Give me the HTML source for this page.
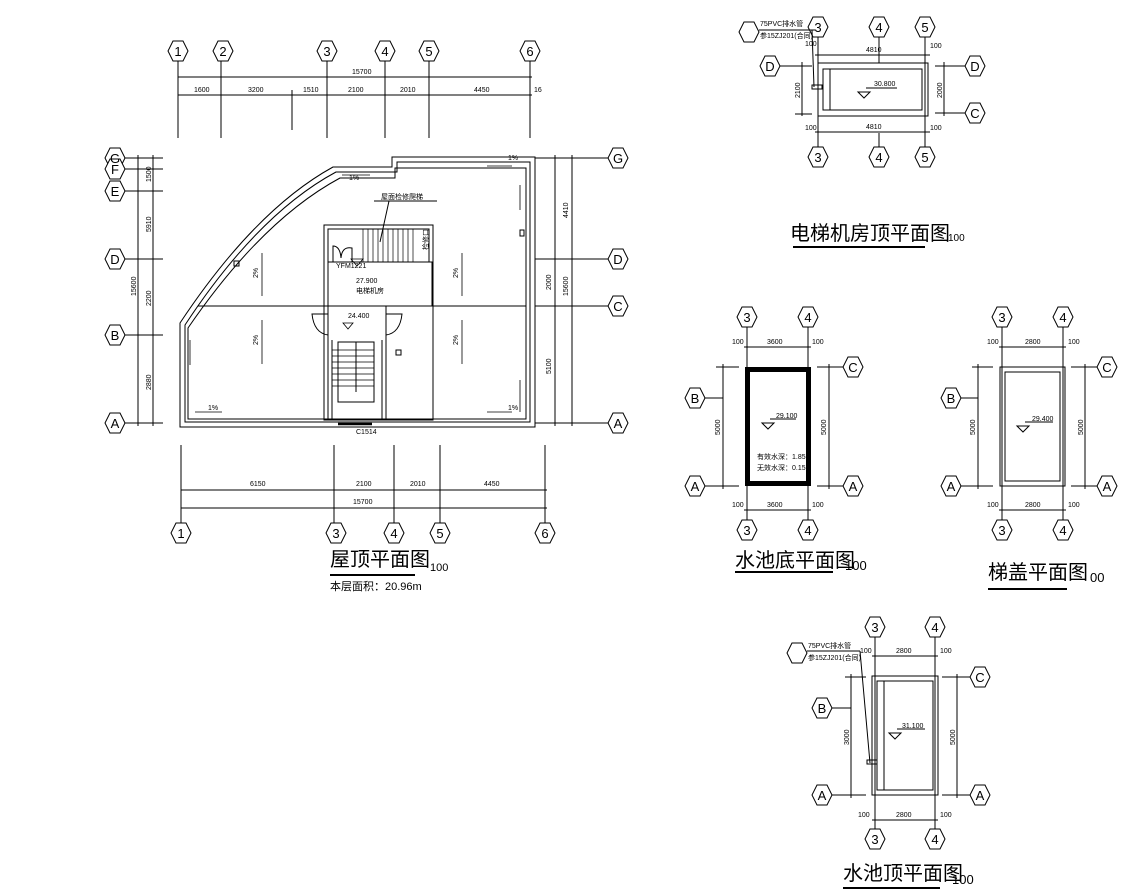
<!DOCTYPE html>
<html><head><meta charset="utf-8"><style>
html,body{margin:0;padding:0;background:#fff;}
svg{display:block;}
text{font-family:"Liberation Sans","Noto Sans CJK SC",sans-serif;fill:#000;}
.s{font-size:7px;}
.ax{font-size:13px;text-anchor:middle;}
.t{font-size:20px;}
</style></head><body>
<svg width="1133" height="890" viewBox="0 0 1133 890" xmlns="http://www.w3.org/2000/svg" stroke="#000" fill="none" stroke-width="1">
<defs>
<polygon id="hx" points="-5,-10 5,-10 10,0 5,10 -5,10 -10,0" fill="#fff"/>
</defs>

<!-- ============ MAIN ROOF PLAN ============ -->
<g>
<use href="#hx" x="178" y="51"/><use href="#hx" x="223" y="51"/><use href="#hx" x="327" y="51"/><use href="#hx" x="385" y="51"/><use href="#hx" x="429" y="51"/><use href="#hx" x="530" y="51"/>
</g>
<g stroke-width="1">
<line x1="178" y1="61" x2="178" y2="138"/><line x1="221" y1="61" x2="221" y2="138"/><line x1="327" y1="61" x2="327" y2="138"/><line x1="385" y1="61" x2="385" y2="138"/><line x1="429" y1="61" x2="429" y2="138"/><line x1="530" y1="61" x2="530" y2="138"/>
<line x1="292" y1="90" x2="292" y2="130"/>
<line x1="178" y1="77" x2="532" y2="77"/><line x1="178" y1="95" x2="532" y2="95"/>
</g>
<g stroke="none">
<text class="ax" x="178" y="56">1</text><text class="ax" x="223" y="56">2</text><text class="ax" x="327" y="56">3</text><text class="ax" x="385" y="56">4</text><text class="ax" x="429" y="56">5</text><text class="ax" x="530" y="56">6</text>
<text class="s" x="352" y="74">15700</text>
<text class="s" x="194" y="92">1600</text><text class="s" x="248" y="92">3200</text><text class="s" x="303" y="92">1510</text><text class="s" x="348" y="92">2100</text><text class="s" x="400" y="92">2010</text><text class="s" x="474" y="92">4450</text><text class="s" x="534" y="92">16</text>
</g>

<!-- bottom axes -->
<g>
<line x1="181" y1="445" x2="181" y2="523"/><line x1="334" y1="445" x2="334" y2="523"/><line x1="394" y1="445" x2="394" y2="523"/><line x1="440" y1="445" x2="440" y2="523"/><line x1="545" y1="445" x2="545" y2="523"/>
<line x1="181" y1="490" x2="547" y2="490"/><line x1="181" y1="508" x2="547" y2="508"/>
<use href="#hx" x="181" y="533"/><use href="#hx" x="336" y="533"/><use href="#hx" x="394" y="533"/><use href="#hx" x="440" y="533"/><use href="#hx" x="545" y="533"/>
</g>
<g stroke="none">
<text class="ax" x="181" y="538">1</text><text class="ax" x="336" y="538">3</text><text class="ax" x="394" y="538">4</text><text class="ax" x="440" y="538">5</text><text class="ax" x="545" y="538">6</text>
<text class="s" x="250" y="486">6150</text><text class="s" x="356" y="486">2100</text><text class="s" x="410" y="486">2010</text><text class="s" x="484" y="486">4450</text>
<text class="s" x="353" y="504">15700</text>
</g>

<!-- left axes -->
<g>
<use href="#hx" x="115" y="158"/><use href="#hx" x="115" y="169"/><use href="#hx" x="115" y="191"/><use href="#hx" x="115" y="259"/><use href="#hx" x="115" y="335"/><use href="#hx" x="115" y="423"/>
<line x1="125" y1="158" x2="163" y2="158"/><line x1="125" y1="169" x2="163" y2="169"/><line x1="125" y1="191" x2="163" y2="191"/><line x1="125" y1="259" x2="163" y2="259"/><line x1="125" y1="335" x2="163" y2="335"/><line x1="125" y1="423" x2="163" y2="423"/>
<line x1="138" y1="155" x2="138" y2="426"/><line x1="153" y1="155" x2="153" y2="426"/>
</g>
<g stroke="none">
<text class="ax" x="115" y="163">G</text><text class="ax" x="115" y="174">F</text><text class="ax" x="115" y="196">E</text><text class="ax" x="115" y="264">D</text><text class="ax" x="115" y="340">B</text><text class="ax" x="115" y="428">A</text>
<text class="s" transform="translate(136,296) rotate(-90)">15600</text>
<text class="s" transform="translate(151,182) rotate(-90)">1500</text>
<text class="s" transform="translate(151,232) rotate(-90)">5910</text>
<text class="s" transform="translate(151,306) rotate(-90)">2200</text>
<text class="s" transform="translate(151,390) rotate(-90)">2880</text>
</g>

<!-- right axes -->
<g>
<line x1="535" y1="158" x2="608" y2="158"/><line x1="535" y1="259" x2="608" y2="259"/><line x1="535" y1="306" x2="608" y2="306"/><line x1="535" y1="423" x2="608" y2="423"/>
<line x1="555" y1="155" x2="555" y2="426"/><line x1="572" y1="155" x2="572" y2="426"/>
<use href="#hx" x="618" y="158"/><use href="#hx" x="618" y="259"/><use href="#hx" x="618" y="306"/><use href="#hx" x="618" y="423"/>
</g>
<g stroke="none">
<text class="ax" x="618" y="163">G</text><text class="ax" x="618" y="264">D</text><text class="ax" x="618" y="311">C</text><text class="ax" x="618" y="428">A</text>
<text class="s" transform="translate(568,218) rotate(-90)">4410</text>
<text class="s" transform="translate(551,290) rotate(-90)">2000</text>
<text class="s" transform="translate(568,296) rotate(-90)">15600</text>
<text class="s" transform="translate(551,374) rotate(-90)">5100</text>
</g>

<!-- building outline -->
<path d="M180,427 L180,323 Q255,210 333,167 L392,167 L392,157 L535,157 L535,427 Z"/>
<path d="M185,422 L185,325 Q258,214 336,172 L397,172 L397,162 L530,162 L530,422 Z"/>
<path d="M188,419 L188,328 Q262,220 340,178 L395,178 L395,168 L526,168 L526,419 Z"/>
<line x1="198" y1="306" x2="526" y2="306"/>
<rect x="324" y="225" width="109" height="195"/>
<rect x="328" y="229" width="101" height="33"/>
<rect x="328" y="262" width="104" height="44"/>
<line x1="328" y1="306" x2="328" y2="420"/><line x1="386" y1="306" x2="386" y2="420"/>
<line x1="332" y1="340" x2="332" y2="420"/><line x1="382" y1="340" x2="382" y2="420"/>
<rect x="338" y="342" width="36" height="60"/>
<line x1="356" y1="342" x2="356" y2="392"/>
<g stroke-width="0.7">
<line x1="332" y1="350" x2="374" y2="350"/><line x1="332" y1="356" x2="374" y2="356"/><line x1="332" y1="362" x2="374" y2="362"/><line x1="332" y1="368" x2="374" y2="368"/><line x1="332" y1="374" x2="374" y2="374"/><line x1="332" y1="380" x2="374" y2="380"/><line x1="332" y1="386" x2="374" y2="386"/>
<line x1="363" y1="229" x2="363" y2="262"/><line x1="368" y1="229" x2="368" y2="262"/><line x1="373" y1="229" x2="373" y2="262"/><line x1="378" y1="229" x2="378" y2="262"/><line x1="383" y1="229" x2="383" y2="262"/><line x1="388" y1="229" x2="388" y2="262"/><line x1="393" y1="229" x2="393" y2="262"/><line x1="398" y1="229" x2="398" y2="262"/><line x1="403" y1="229" x2="403" y2="262"/><line x1="408" y1="229" x2="408" y2="262"/><line x1="413" y1="229" x2="413" y2="262"/>
</g>
<path d="M333,262 L333,246 Q340,246 341,258 Q342,246 352,248 L352,262"/>
<path d="M312,314 L328,314 L328,335 Q314,333 312,314 Z"/>
<path d="M402,314 L386,314 L386,335 Q400,333 402,314 Z"/>
<line x1="338" y1="424" x2="372" y2="424" stroke-width="2.5"/>
<line x1="374" y1="201" x2="437" y2="201"/><line x1="389" y1="201" x2="380" y2="242"/>
<g stroke-width="0.8">
<line x1="262" y1="253" x2="262" y2="296"/><line x1="462" y1="253" x2="462" y2="296"/>
<line x1="262" y1="320" x2="262" y2="364"/><line x1="462" y1="320" x2="462" y2="364"/>
<line x1="342" y1="175" x2="370" y2="175"/><line x1="487" y1="166" x2="512" y2="166"/>
<line x1="195" y1="412" x2="222" y2="412"/><line x1="487" y1="412" x2="512" y2="412"/>
<line x1="520" y1="185" x2="520" y2="210"/><line x1="520" y1="380" x2="520" y2="412"/>
<line x1="190" y1="340" x2="190" y2="365"/>
<polygon points="351,259 363,259 357,266"/>
<polygon points="343,323 353,323 348,329"/>
</g>
<rect x="234" y="261" width="5" height="5"/><rect x="396" y="350" width="5" height="5"/><rect x="520" y="230" width="4" height="6"/>
<g stroke="none">
<text class="s" x="381" y="199">屋面检修爬梯</text>
<text class="s" x="336" y="268">YFM1221</text>
<text class="s" x="356" y="283">27.900</text>
<text class="s" x="356" y="293">电梯机房</text>
<text class="s" x="348" y="318">24.400</text>
<text class="s" x="356" y="434">C1514</text>
<text class="s" x="349" y="180">1%</text><text class="s" x="508" y="160">1%</text><text class="s" x="208" y="410">1%</text><text class="s" x="508" y="410">1%</text>
<text class="s" transform="translate(258,278) rotate(-90)">2%</text><text class="s" transform="translate(458,278) rotate(-90)">2%</text>
<text class="s" transform="translate(258,345) rotate(-90)">2%</text><text class="s" transform="translate(458,345) rotate(-90)">2%</text>
<text class="s" transform="translate(428,250) rotate(-90)">检修口</text>
<text class="t" x="330" y="566">屋顶平面图</text><text x="430" y="571" style="font-size:11px">100</text>
<text x="330" y="590" style="font-size:11px">本层面积：20.96m</text>
</g>
<line x1="330" y1="575" x2="415" y2="575" stroke-width="2"/>

<!-- ============ ELEVATOR MACHINE ROOM ROOF ============ -->
<use href="#hx" x="818" y="27"/><use href="#hx" x="879" y="27"/><use href="#hx" x="925" y="27"/>
<use href="#hx" x="818" y="157"/><use href="#hx" x="879" y="157"/><use href="#hx" x="925" y="157"/>
<use href="#hx" x="770" y="66"/><use href="#hx" x="975" y="66"/><use href="#hx" x="975" y="113"/>
<use href="#hx" x="749" y="32"/>
<line x1="818" y1="37" x2="818" y2="147"/><line x1="925" y1="37" x2="925" y2="147"/>
<line x1="879" y1="37" x2="879" y2="63"/><line x1="879" y1="133" x2="879" y2="147"/>
<line x1="815" y1="55" x2="930" y2="55"/><line x1="815" y1="132" x2="930" y2="132"/>
<line x1="780" y1="66" x2="812" y2="66"/><line x1="935" y1="66" x2="965" y2="66"/><line x1="935" y1="113" x2="965" y2="113"/>
<line x1="802" y1="62" x2="802" y2="116"/><line x1="944" y1="62" x2="944" y2="116"/><line x1="795" y1="114" x2="812" y2="114"/>
<rect x="818" y="63" width="110" height="53"/>
<rect x="823" y="69" width="99" height="41"/><line x1="830" y1="69" x2="830" y2="110"/>
<line x1="759" y1="30" x2="815" y2="30"/><line x1="812" y1="30" x2="814" y2="87"/><rect x="812" y="85" width="10" height="4"/>
<polygon points="858,92 870,92 864,98"/><line x1="866" y1="88" x2="897" y2="88"/>
<g stroke="none">
<text class="ax" x="818" y="32">3</text><text class="ax" x="879" y="32">4</text><text class="ax" x="925" y="32">5</text>
<text class="ax" x="818" y="162">3</text><text class="ax" x="879" y="162">4</text><text class="ax" x="925" y="162">5</text>
<text class="ax" x="770" y="71">D</text><text class="ax" x="975" y="71">D</text><text class="ax" x="975" y="118">C</text>
<text class="s" x="760" y="26">75PVC排水管</text><text class="s" x="760" y="38">参15ZJ201(合同)</text>
<text class="s" x="866" y="52">4810</text><text class="s" x="866" y="129">4810</text>
<text class="s" x="805" y="46">100</text><text class="s" x="930" y="48">100</text><text class="s" x="805" y="130">100</text><text class="s" x="930" y="130">100</text>
<text class="s" x="874" y="86">30.800</text>
<text class="s" transform="translate(800,98) rotate(-90)">2100</text><text class="s" transform="translate(942,98) rotate(-90)">2000</text>
<text class="t" x="790" y="240">电梯机房顶平面图</text><text x="948" y="241" style="font-size:10px">100</text>
</g>
<line x1="793" y1="247" x2="925" y2="247" stroke-width="2"/>

<!-- ============ POOL BOTTOM ============ -->
<use href="#hx" x="747" y="317"/><use href="#hx" x="808" y="317"/><use href="#hx" x="747" y="530"/><use href="#hx" x="808" y="530"/>
<use href="#hx" x="695" y="398"/><use href="#hx" x="695" y="486"/><use href="#hx" x="853" y="367"/><use href="#hx" x="853" y="486"/>
<line x1="747" y1="327" x2="747" y2="520"/><line x1="808" y1="327" x2="808" y2="520"/>
<line x1="744" y1="347" x2="811" y2="347"/><line x1="744" y1="510" x2="811" y2="510"/>
<line x1="705" y1="398" x2="723" y2="398"/><line x1="705" y1="486" x2="739" y2="486"/><line x1="716" y1="367" x2="739" y2="367"/>
<line x1="723" y1="364" x2="723" y2="489"/><line x1="829" y1="364" x2="829" y2="489"/>
<line x1="817" y1="367" x2="843" y2="367"/><line x1="817" y1="486" x2="843" y2="486"/>
<rect x="747.5" y="369.5" width="61" height="114" stroke-width="5"/>
<polygon points="762,423 774,423 768,429"/><line x1="770" y1="419" x2="796" y2="419"/>
<g stroke="none">
<text class="ax" x="747" y="322">3</text><text class="ax" x="808" y="322">4</text><text class="ax" x="747" y="535">3</text><text class="ax" x="808" y="535">4</text>
<text class="ax" x="695" y="403">B</text><text class="ax" x="695" y="491">A</text><text class="ax" x="853" y="372">C</text><text class="ax" x="853" y="491">A</text>
<text class="s" x="767" y="344">3600</text><text class="s" x="767" y="507">3600</text>
<text class="s" x="732" y="344">100</text><text class="s" x="812" y="344">100</text><text class="s" x="732" y="507">100</text><text class="s" x="812" y="507">100</text>
<text class="s" x="776" y="418">29.100</text>
<text class="s" transform="translate(720,435) rotate(-90)">5000</text><text class="s" transform="translate(826,435) rotate(-90)">5000</text>
<text class="s" x="757" y="459">有效水深：1.85</text><text class="s" x="757" y="470">无效水深：0.15</text>
<text class="t" x="735" y="567">水池底平面图</text><text x="845" y="570" style="font-size:13px">100</text>
</g>
<line x1="735" y1="572" x2="833" y2="572" stroke-width="2"/>

<!-- ============ STAIR COVER ============ -->
<use href="#hx" x="1002" y="317"/><use href="#hx" x="1063" y="317"/><use href="#hx" x="1002" y="530"/><use href="#hx" x="1063" y="530"/>
<use href="#hx" x="951" y="398"/><use href="#hx" x="951" y="486"/><use href="#hx" x="1107" y="367"/><use href="#hx" x="1107" y="486"/>
<line x1="1002" y1="327" x2="1002" y2="520"/><line x1="1063" y1="327" x2="1063" y2="520"/>
<line x1="999" y1="347" x2="1066" y2="347"/><line x1="999" y1="510" x2="1066" y2="510"/>
<line x1="961" y1="398" x2="978" y2="398"/><line x1="961" y1="486" x2="993" y2="486"/><line x1="972" y1="367" x2="993" y2="367"/>
<line x1="978" y1="364" x2="978" y2="489"/><line x1="1085" y1="364" x2="1085" y2="489"/>
<line x1="1071" y1="367" x2="1097" y2="367"/><line x1="1071" y1="486" x2="1097" y2="486"/>
<rect x="1000" y="367" width="65" height="119"/><rect x="1005" y="372" width="55" height="109"/>
<polygon points="1017,426 1029,426 1023,432"/><line x1="1025" y1="422" x2="1053" y2="422"/>
<g stroke="none">
<text class="ax" x="1002" y="322">3</text><text class="ax" x="1063" y="322">4</text><text class="ax" x="1002" y="535">3</text><text class="ax" x="1063" y="535">4</text>
<text class="ax" x="951" y="403">B</text><text class="ax" x="951" y="491">A</text><text class="ax" x="1107" y="372">C</text><text class="ax" x="1107" y="491">A</text>
<text class="s" x="1025" y="344">2800</text><text class="s" x="1025" y="507">2800</text>
<text class="s" x="987" y="344">100</text><text class="s" x="1068" y="344">100</text><text class="s" x="987" y="507">100</text><text class="s" x="1068" y="507">100</text>
<text class="s" x="1032" y="421">29.400</text>
<text class="s" transform="translate(975,435) rotate(-90)">5000</text><text class="s" transform="translate(1083,435) rotate(-90)">5000</text>
<text class="t" x="988" y="579">梯盖平面图</text><text x="1090" y="582" style="font-size:13px">00</text>
</g>
<line x1="988" y1="589" x2="1067" y2="589" stroke-width="2"/>

<!-- ============ POOL TOP ============ -->
<use href="#hx" x="875" y="627"/><use href="#hx" x="935" y="627"/><use href="#hx" x="875" y="839"/><use href="#hx" x="935" y="839"/>
<use href="#hx" x="822" y="708"/><use href="#hx" x="822" y="795"/><use href="#hx" x="980" y="677"/><use href="#hx" x="980" y="795"/>
<use href="#hx" x="797" y="653"/>
<line x1="875" y1="637" x2="875" y2="829"/><line x1="935" y1="637" x2="935" y2="829"/>
<line x1="872" y1="656" x2="938" y2="656"/><line x1="872" y1="820" x2="938" y2="820"/>
<line x1="832" y1="708" x2="851" y2="708"/><line x1="832" y1="795" x2="866" y2="795"/><line x1="845" y1="677" x2="866" y2="677"/>
<line x1="851" y1="674" x2="851" y2="798"/><line x1="957" y1="674" x2="957" y2="798"/>
<line x1="942" y1="677" x2="970" y2="677"/><line x1="942" y1="795" x2="970" y2="795"/>
<rect x="872" y="676" width="66" height="119"/><rect x="877" y="681" width="56" height="109"/><line x1="884" y1="681" x2="884" y2="790"/>
<line x1="807" y1="651" x2="860" y2="651"/><line x1="860" y1="651" x2="870" y2="763"/><rect x="867" y="760" width="10" height="4"/>
<polygon points="889,733 901,733 895,739"/><line x1="897" y1="729" x2="925" y2="729"/>
<g stroke="none">
<text class="ax" x="875" y="632">3</text><text class="ax" x="935" y="632">4</text><text class="ax" x="875" y="844">3</text><text class="ax" x="935" y="844">4</text>
<text class="ax" x="822" y="713">B</text><text class="ax" x="822" y="800">A</text><text class="ax" x="980" y="682">C</text><text class="ax" x="980" y="800">A</text>
<text class="s" x="808" y="648">75PVC排水管</text><text class="s" x="808" y="660">参15ZJ201(合同)</text>
<text class="s" x="896" y="653">2800</text><text class="s" x="896" y="817">2800</text>
<text class="s" x="860" y="653">100</text><text class="s" x="940" y="653">100</text><text class="s" x="858" y="817">100</text><text class="s" x="940" y="817">100</text>
<text class="s" x="902" y="728">31.100</text>
<text class="s" transform="translate(849,745) rotate(-90)">3000</text><text class="s" transform="translate(955,745) rotate(-90)">5000</text>
<text class="t" x="843" y="880">水池顶平面图</text><text x="952" y="884" style="font-size:13px">100</text>
</g>
<line x1="843" y1="888" x2="940" y2="888" stroke-width="2"/>
</svg>
</body></html>
